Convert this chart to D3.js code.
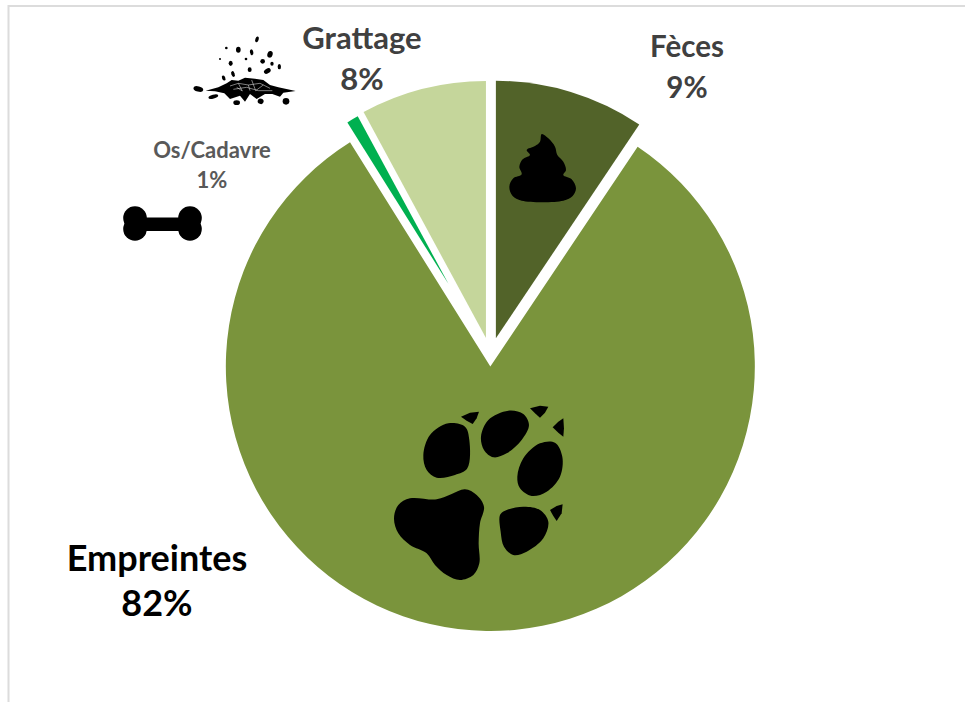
<!DOCTYPE html>
<html>
<head>
<meta charset="utf-8">
<script src="https://cdn.jsdelivr.net/npm/d3@7"></script>
<style>
  html, body { margin: 0; padding: 0; background: #fff; }
  svg { display: block; }
  text { font-family: Lato, "Open Sans", sans-serif; font-weight: 700; text-anchor: middle; }
</style>
</head>
<body>
<div id="chart"></div>
<script>
var categories = ["Fèces", "Empreintes", "Os/Cadavre", "Grattage"];
var values = [9.4, 81.7, 1.0, 7.9];
var valueLabels = ["9%", "82%", "1%", "8%"];

var colors = ["#526329", "#7a943c", "#00b050", "#c5d69b"];
// how far each slice is pulled off the centre, and its own radius
var explode = [18.5, 10.5, 83, 18.5];
var radii = [257.5, 264.5, 191, 257];

// label placement: centre x, first baseline, second baseline, size, colour
var labelX = [687, 157, 212, 362];
var labelY1 = [57, 571, 158, 49];
var labelY2 = [98, 616, 188, 90];
var labelSize = [29.5, 36, 22, 31];
var labelColor = ["#404040", "#000000", "#595959", "#404040"];

var width = 965, height = 702, cx = 490.5, cy = 356;

var svg = d3.select("#chart").append("svg")
  .attr("width", width)
  .attr("height", height);

// frame, only top and left show in the picture
svg.append("path")
  .attr("d", "M8.5,702V6H965")
  .attr("fill", "none")
  .attr("stroke", "#dcdcdc")
  .attr("stroke-width", 2);

var pie = d3.pie().sort(null).value(function (d) { return d; });
var arcs = pie(values);
var arc = d3.arc().innerRadius(0);

svg.append("g").selectAll("path")
  .data(arcs)
  .enter()
  .append("path")
  .attr("fill", function (d, i) { return colors[i]; })
  .attr("d", function (d, i) { return arc.outerRadius(radii[i])(d); })
  .attr("transform", function (d, i) {
    var mid = (d.startAngle + d.endAngle) / 2;
    return "translate(" + (cx + explode[i] * Math.sin(mid)) + "," + (cy - explode[i] * Math.cos(mid)) + ")";
  });

categories.forEach(function (c, i) {
  svg.append("text").attr("x", labelX[i]).attr("y", labelY1[i])
    .attr("font-size", labelSize[i]).attr("fill", labelColor[i]).text(c);
  svg.append("text").attr("x", labelX[i]).attr("y", labelY2[i])
    .attr("font-size", labelSize[i]).attr("fill", labelColor[i]).text(valueLabels[i]);
});

// pictograms
var blob = d3.line().curve(d3.curveCatmullRomClosed.alpha(0.5));
var sharp = d3.line().curve(d3.curveLinearClosed);

var paw = svg.append("g").attr("transform", "translate(380,390) scale(0.3333)");
[
  [[42,385],[55,345],[90,325],[170,328],[215,312],[255,298],[290,315],[312,350],[300,400],[296,460],[298,520],[280,555],[240,570],[200,555],[165,525],[140,490],[90,465],[55,430]],
  [[130,195],[150,135],[205,100],[255,110],[268,150],[262,235],[225,255],[170,263],[140,240]],
  [[303,140],[325,90],[385,62],[430,72],[447,105],[425,150],[380,190],[340,202],[312,180]],
  [[412,260],[430,205],[480,160],[525,158],[547,200],[540,260],[500,305],[455,318],[420,295]],
  [[360,375],[375,362],[430,350],[480,360],[505,395],[490,445],[440,485],[400,495],[372,470],[362,425]]
].forEach(function (p) { paw.append("path").attr("d", blob(p)); });
[
  [[243,80],[270,68],[297,65],[290,85],[278,102],[260,92]],
  [[450,55],[480,47],[505,50],[495,68],[480,83],[465,70]],
  [[518,112],[535,95],[550,85],[552,115],[550,140],[535,128]],
  [[510,360],[530,348],[548,343],[545,370],[530,393],[520,378]]
].forEach(function (p) { paw.append("path").attr("d", sharp(p)); });

svg.append("g").attr("transform", "translate(480,70) scale(0.3333)")
  .append("path")
  .attr("d", blob([[185,192],[205,205],[225,230],[232,255],[250,275],[258,300],[250,315],[275,328],[288,355],[278,378],[250,392],[125,392],[98,378],[88,350],[100,325],[125,313],[118,290],[128,268],[150,255],[140,240],[165,228],[180,215]]));

var bone = svg.append("g");
bone.append("rect").attr("x", 135).attr("y", 217.5).attr("width", 55).attr("height", 13.5);
[[135,218],[135,229],[190,218],[190,229]].forEach(function (p) {
  bone.append("circle").attr("cx", p[0]).attr("cy", p[1]).attr("r", 11.8);
});

var dirt = svg.append("g").attr("transform", "translate(185,30) scale(0.3333)");
[
  [216,28,5,9,20],[124,54,4,4,0],[160,59,7,9,0],[200,67,5,9,-10],[255,73,8,10,15],[105,87,3,3,0],
  [137,100,6,8,0],[183,87,4,4,0],[233,94,7,7,0],[261,101,5,6,0],[283,110,5,8,0],[247,123,11,7,-30],
  [194,119,6,7,0],[144,132,5,9,-20],[116,144,5,8,-20],[40,177,15,8,15],[85,200,15,6,-15],
  [155,218,10,7,0],[227,214,9,8,20],[303,214,10,10,0]
].forEach(function (e) {
  dirt.append("ellipse").attr("rx", e[2]).attr("ry", e[3])
    .attr("transform", "translate(" + e[0] + "," + e[1] + ") rotate(" + e[4] + ")");
});
dirt.append("path")
  .attr("d", sharp([[62,182],[100,172],[125,160],[140,150],[160,152],[180,143],[210,146],[235,150],[255,165],[280,172],[332,183],[295,188],[285,200],[262,192],[240,192],[215,207],[195,192],[180,215],[165,197],[135,207],[118,190],[90,184]]));
[
  [[135,168],[160,160],[190,165],[225,160],[255,175]],
  [[145,178],[185,172],[220,182],[262,182]],
  [[160,160],[172,183],[155,172]],
  [[200,150],[212,182],[235,165]],
  [[190,165],[195,182]]
].forEach(function (p) {
  dirt.append("path")
    .attr("d", d3.line()(p))
    .attr("fill", "none")
    .attr("stroke", "#fff")
    .attr("stroke-width", 1.5);
});
</script>
</body>
</html>
